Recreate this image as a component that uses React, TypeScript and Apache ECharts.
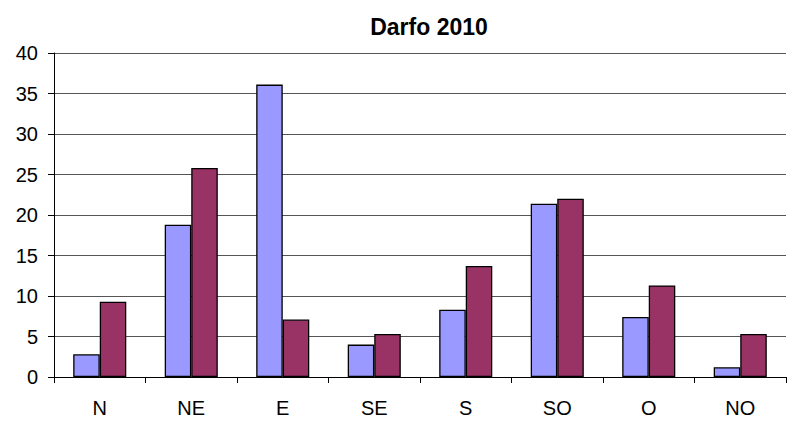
import React, { useEffect, useRef } from "react";
import * as echarts from "echarts";

const categories = ["N", "NE", "E", "SE", "S", "SO", "O", "NO"];
const series1 = [2.8, 18.8, 36.1, 4.0, 8.3, 21.4, 7.4, 1.2];
const series2 = [9.3, 25.8, 7.1, 5.3, 13.7, 22.0, 11.3, 5.3];
const title = "Darfo 2010";

export default function App() {
  const ref = useRef<HTMLDivElement>(null);
  useEffect(() => {
    if (!ref.current) return;
    const chart = echarts.init(ref.current, undefined, { renderer: "svg" });
    const font = "Liberation Sans, Arial, sans-serif";
    chart.setOption({
      animation: false,
      backgroundColor: "#ffffff",
      title: {
        text: title,
        left: 424,
        textAlign: "center",
        top: 10,
        textStyle: { fontFamily: font, fontSize: 23, fontWeight: "bold", color: "#000" },
      },
      grid: { left: 54, right: 3, top: 53, bottom: 44, containLabel: false },
      xAxis: {
        type: "category",
        data: categories,
        axisLine: { lineStyle: { color: "#000", width: 1 } },
        axisTick: { show: true, length: 6, lineStyle: { color: "#000" } },
        axisLabel: { fontFamily: font, fontSize: 20, color: "#000", margin: 21 },
      },
      yAxis: {
        type: "value",
        min: 0,
        max: 40,
        interval: 5,
        axisLine: { show: true, lineStyle: { color: "#000", width: 1 } },
        axisTick: { show: true, length: 6, lineStyle: { color: "#000" } },
        axisLabel: { fontFamily: font, fontSize: 20, color: "#000", margin: 16 },
        splitLine: { show: true, lineStyle: { color: "#555", width: 1 } },
      },
      series: [
        {
          type: "bar",
          data: series1,
          barGap: "0%",
          barCategoryGap: "42%",
          itemStyle: { color: "#9999ff", borderColor: "#000", borderWidth: 1.3 },
        },
        {
          type: "bar",
          data: series2,
          barGap: "0%",
          barCategoryGap: "42%",
          itemStyle: { color: "#993366", borderColor: "#000", borderWidth: 1.3 },
        },
      ],
    });
    return () => chart.dispose();
  }, []);
  return (
    <div
      ref={ref}
      style={{ position: "fixed", left: 0, top: 0, width: 789, height: 421 }}
    />
  );
}
